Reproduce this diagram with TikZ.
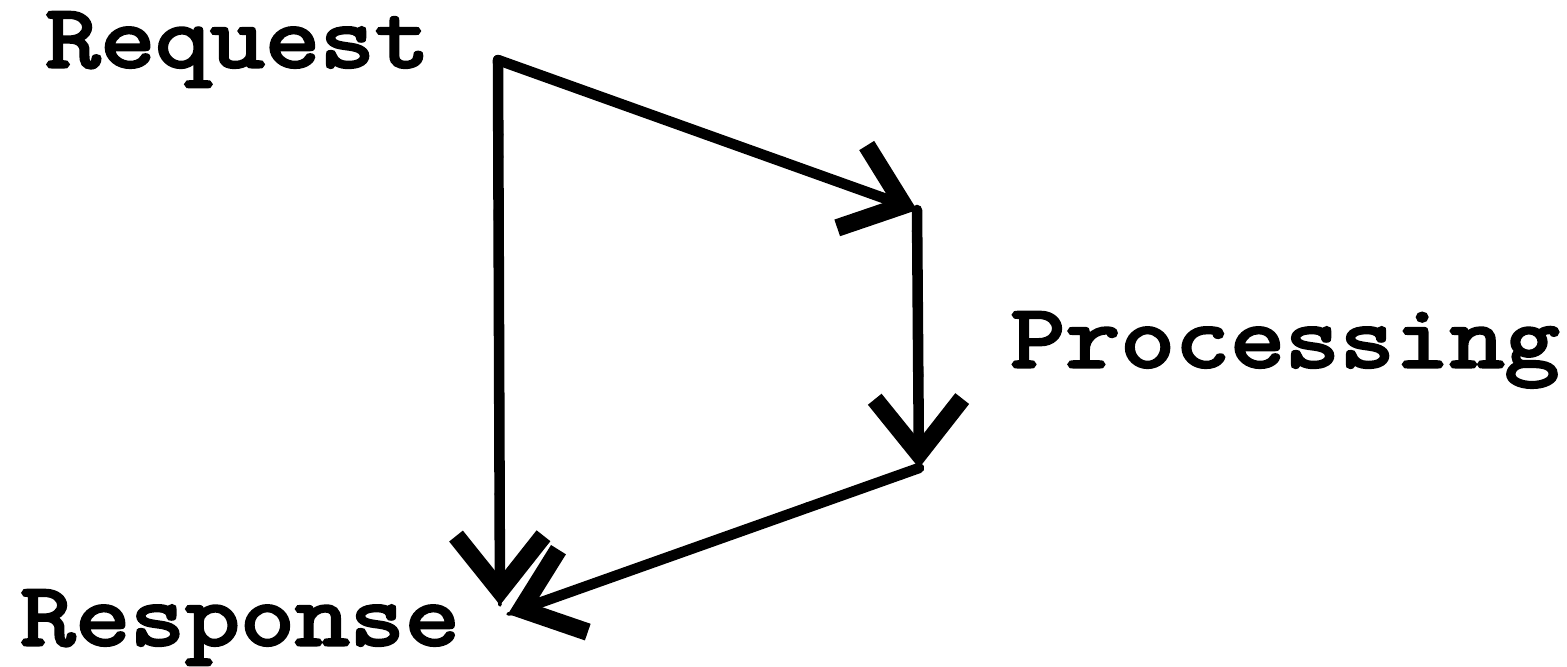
\documentclass[tikz,border=0pt]{standalone}
\usepackage{fontspec}
\newfontfamily\labelfont{Latin Modern Mono}[FakeBold=3.5, FakeStretch=1.19]
\usetikzlibrary{arrows.meta,decorations.pathmorphing}

\begin{document}
\begin{tikzpicture}[x=0.02cm, y=-0.02cm,
	every node/.style={font=\labelfont\bfseries\fontsize{51}{58}\selectfont, inner sep=0pt},
	flow/.style={line width=6pt, line cap=round, -{Straight Barb[length=1.1cm, width=1.75cm, line width=10pt]},
		postaction={draw, -, line width=2pt, decorate, decoration={random steps, segment length=6pt, amplitude=2pt}}}]
	\useasboundingbox (0,0) rectangle (1567,666);
	% the three labels
	\node[anchor=base west] (request) at (45,67) {Request};
	\node[anchor=base west] (processing) at (1010,367) {Processing};
	\node[anchor=base west] (response) at (20,645) {Response};
	% corners of the loop
	\coordinate (reqpt) at (498,60);
	\coordinate (proctop) at (917,210);
	\coordinate (procbot) at (919,468);
	\coordinate (resppt) at (508,614);
	\coordinate (respdown) at (500,605);
	% the arrows
	\draw[flow] (reqpt) -- (proctop);
	\draw[flow] (proctop) -- (procbot);
	\draw[flow] (procbot) -- (resppt);
	\draw[flow] (reqpt) -- (respdown);
\end{tikzpicture}
\end{document}
